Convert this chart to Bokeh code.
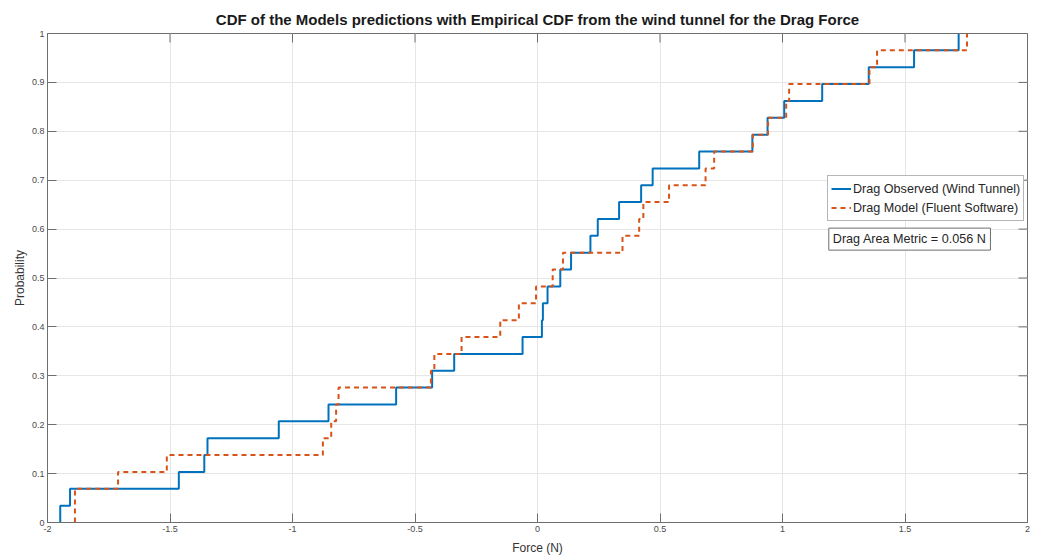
from bokeh.plotting import figure
from bokeh.models import Legend, LegendItem, Label, FixedTicker
from bokeh.embed import file_html
from bokeh.resources import INLINE

# Sample values (Force, N)
observed = [-1.948, -1.908, -1.464, -1.360, -1.347, -1.056, -0.853, -0.577,
            -0.430, -0.340, -0.061, 0.018, 0.022, 0.041, 0.093, 0.137,
            0.216, 0.246, 0.333, 0.423, 0.470, 0.660, 0.877, 0.939,
            1.007, 1.162, 1.352, 1.537, 1.719]
model = [-1.888, -1.888, -1.712, -1.513, -0.876, -0.842, -0.822, -0.812,
         -0.435, -0.421, -0.310, -0.152, -0.076, -0.006, 0.062, 0.104,
         0.347, 0.415, 0.432, 0.537, 0.686, 0.721, 0.879, 0.941,
         1.015, 1.027, 1.355, 1.386, 1.753]

x_ticks = [-2, -1.5, -1, -0.5, 0, 0.5, 1, 1.5, 2]
x_tick_labels = ["-2", "-1.5", "-1", "-0.5", "0", "0.5", "1", "1.5", "2"]
y_ticks = [0, 0.1, 0.2, 0.3, 0.4, 0.5, 0.6, 0.7, 0.8, 0.9, 1]
y_tick_labels = ["0", "0.1", "0.2", "0.3", "0.4", "0.5", "0.6", "0.7", "0.8", "0.9", "1"]

series_labels = ["Drag Observed (Wind Tunnel)", "Drag Model (Fluent Software)"]
metric_text = "Drag Area Metric = 0.056 N"
title_text = "CDF of the Models predictions with Empirical CDF from the wind tunnel for the Drag Force"


def ecdf(vals):
    s = sorted(vals)
    n = len(s)
    xs = [s[0]] + s
    ys = [0.0] + [(i + 1) / n for i in range(n)]
    return xs, ys


FONT = "Liberation Sans"
AX = "#6e6e6e"
TXT = "#4a4a4a"
X0, X1, Y0, Y1 = -2, 2, 0, 1

p = figure(width=1038, height=557, x_range=(X0, X1), y_range=(Y0, Y1),
           output_backend="svg", toolbar_location=None,
           min_border_left=47, min_border_right=11, min_border_top=33,
           min_border_bottom=34, x_axis_label="Force (N)", y_axis_label="Probability")

p.title.text = title_text
p.title.align = "center"
p.title.text_font = FONT
p.title.text_font_size = "15px"
p.title.text_font_style = "bold"
p.title.text_color = "#1a1a1a"
p.title.standoff = 11

p.outline_line_color = AX
p.outline_line_width = 1
p.background_fill_color = "white"
p.border_fill_color = "white"

for ax in (p.xaxis[0], p.yaxis[0]):
    ax.axis_line_color = AX
    ax.major_tick_line_color = AX
    ax.major_tick_in = 9
    ax.major_tick_out = 0
    ax.minor_tick_line_color = None
    ax.major_label_text_font = FONT
    ax.major_label_text_font_size = "9px"
    ax.major_label_text_color = TXT
    ax.axis_label_text_font = FONT
    ax.axis_label_text_font_size = "12px"
    ax.axis_label_text_font_style = "normal"
    ax.axis_label_text_color = "#333333"
    ax.major_label_standoff = 3

p.xaxis[0].ticker = FixedTicker(ticks=x_ticks)
p.xaxis[0].major_label_overrides = {t: l for t, l in zip(x_ticks, x_tick_labels)}
p.yaxis[0].ticker = FixedTicker(ticks=y_ticks)
p.yaxis[0].major_label_overrides = {t: l for t, l in zip(y_ticks, y_tick_labels)}
p.xaxis[0].axis_label_standoff = 6
p.yaxis[0].axis_label_standoff = 2

p.xgrid.ticker = FixedTicker(ticks=x_ticks)
p.ygrid.ticker = FixedTicker(ticks=y_ticks)
p.xgrid.grid_line_color = "#e6e6e6"
p.ygrid.grid_line_color = "#e6e6e6"

# mirrored inward ticks on the top and right edges of the box (9 px long)
tick_dx = 9 * (X1 - X0) / 980
tick_dy = 9 * (Y1 - Y0) / 490
p.segment(x0=x_ticks, y0=[Y1] * len(x_ticks), x1=x_ticks, y1=[Y1 - tick_dy] * len(x_ticks),
          line_color=AX, line_width=1)
p.segment(x0=[X1] * len(y_ticks), y0=y_ticks, x1=[X1 - tick_dx] * len(y_ticks), y1=y_ticks,
          line_color=AX, line_width=1)

ox, oy = ecdf(observed)
mx, my = ecdf(model)
r1 = p.step(ox, oy, mode="after", line_color="#0072BD", line_width=2)
r2 = p.step(mx, my, mode="after", line_color="#D95319", line_width=2, line_dash="5 4")

legend = Legend(items=[LegendItem(label=series_labels[0], renderers=[r1]),
                       LegendItem(label=series_labels[1], renderers=[r2])],
                location=(780, 301))
legend.label_text_font = FONT
legend.label_text_font_size = "12.6px"
legend.label_text_color = "#262626"
legend.glyph_width = 20
legend.glyph_height = 19
legend.label_height = 19
legend.label_standoff = 2
legend.spacing = 0
legend.padding = 3
legend.margin = 0
legend.border_line_color = AX
legend.border_line_width = 1
legend.background_fill_color = "white"
legend.background_fill_alpha = 1
p.add_layout(legend, "center")

lab = Label(x=1.189, y=0.557, text=metric_text, text_font=FONT, text_font_size="12.6px",
            text_color="#262626", border_line_color=AX, border_line_width=1,
            background_fill_color="white", padding=4)
p.add_layout(lab)

open("out.html", "w").write(file_html(p, INLINE))
